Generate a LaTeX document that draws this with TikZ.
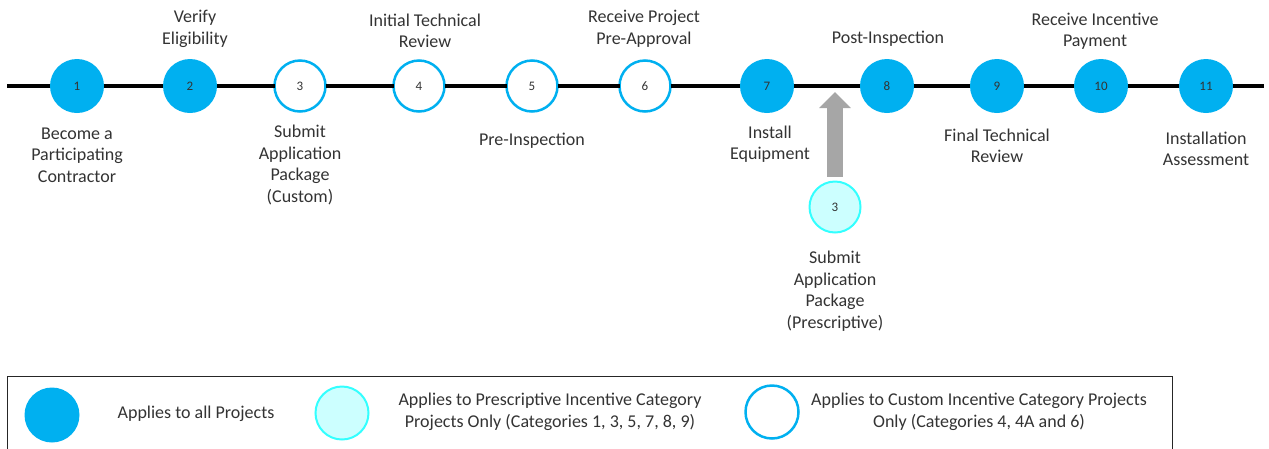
\documentclass[tikz,border=0pt]{standalone}
\usepackage{fontspec}
\setmainfont{Carlito}
\usepackage{tikz}
\usepackage{tkz-graph}
\usetikzlibrary{arrows.meta}

\definecolor{allblue}{HTML}{00B0F0}
\definecolor{prescfill}{HTML}{CCFFFF}
\definecolor{prescline}{HTML}{33FFFF}
\definecolor{arrowgray}{HTML}{A6A6A6}
\definecolor{darktext}{HTML}{333333}

\newcommand{\numsize}{\fontsize{13}{14}\selectfont}
\newcommand{\labsize}{\fontsize{18}{21.5}\selectfont}

\tikzset{
  allstep/.style={shape=circle,fill=allblue,draw=none,minimum size=54pt,inner sep=0pt,font=\numsize,text=darktext},
  customstep/.style={allstep,fill=white,draw=allblue,line width=2.5pt,minimum size=51pt},
  prescstep/.style={allstep,fill=prescfill,draw=prescline,line width=2pt,minimum size=51pt},
  steplabel/.style={align=center,font=\labsize,text=darktext,inner sep=0pt},
  feedarrow/.style={draw=arrowgray,line width=16pt,-{Triangle[width=31pt,length=16pt]},shorten <=5pt},
  legendbox/.style={draw=black!85,line width=1pt}
}

\begin{document}
\begin{tikzpicture}[x=1pt,y=-1pt]
	\useasboundingbox (0,0) rectangle (1269,448);
	\SetVertexNoLabel
	\tikzset{EdgeStyle/.style={line width=4pt,black}}
	\tikzset{VertexStyle/.style={allstep}}
	\Vertex[x=77,y=86]{1}
	\Vertex[x=190,y=86]{2}
	\Vertex[x=767,y=86]{7}
	\Vertex[x=887,y=86]{8}
	\Vertex[x=997,y=86]{9}
	\Vertex[x=1101,y=86]{10}
	\Vertex[x=1206,y=86]{11}
	\tikzset{VertexStyle/.style={customstep}}
	\Vertex[x=300,y=86]{3}
	\Vertex[x=419,y=86]{4}
	\Vertex[x=532,y=86]{5}
	\Vertex[x=645,y=86]{6}
	\tikzset{VertexStyle/.style={prescstep}}
	\Vertex[x=835,y=207]{p3}
	\foreach \v in {1,...,11} {\node[font=\numsize,text=darktext] at (\v) {\v};}
	\node[font=\numsize,text=darktext] at (p3) {3};
	\coordinate (lineL) at (7,86);
	\coordinate (lineR) at (1264,86);
  \Edges(lineL,1,2,3,4,5,6,7,8,9,10,11,lineR)
	\coordinate (tip) at (835,92);
	\draw[feedarrow] (p3) -- (tip);
	% labels above the line
	\node[steplabel] (t2) at (195,29) {Verify\\Eligibility};
	\node[steplabel] (t4) at (425,31) {Initial Technical\\Review};
	\node[steplabel] (t6) at (644,29) {Receive Project\\Pre-Approval};
	\node[steplabel] (t8) at (888,39) {Post-Inspection};
	\node[steplabel] (t10) at (1095,31) {Receive Incentive\\Payment};
	% labels below the line
	\node[steplabel] (b1) at (77,155) {Become a\\Participating\\Contractor};
	\node[steplabel] (b3) at (300,165) {Submit\\Application\\Package\\(Custom)};
	\node[steplabel] (b5) at (532,141) {Pre-Inspection};
	\node[steplabel] (b7) at (770,144) {Install\\Equipment};
	\node[steplabel] (b9) at (997,146) {Final Technical\\Review};
	\node[steplabel] (b11) at (1206,149) {Installation\\Assessment};
	\node[steplabel] (bp3) at (835,291) {Submit\\Application\\Package\\(Prescriptive)};
	% legend
	\draw[legendbox] (7,376) rectangle (1172,452);
	\node[allstep,minimum size=55pt] (k1) at (52,415) {};
	\node[steplabel] (k1t) at (196,414) {Applies to all Projects};
	\node[prescstep,minimum size=53pt] (k2) at (342,413) {};
	\node[steplabel] (k2t) at (550,412) {Applies to Prescriptive Incentive Category\\Projects Only (Categories 1, 3, 5, 7, 8, 9)};
	\node[customstep,minimum size=53pt] (k3) at (772,412) {};
	\node[steplabel] (k3t) at (979,412) {Applies to Custom Incentive Category Projects\\Only (Categories 4, 4A and 6)};
\end{tikzpicture}
\end{document}
